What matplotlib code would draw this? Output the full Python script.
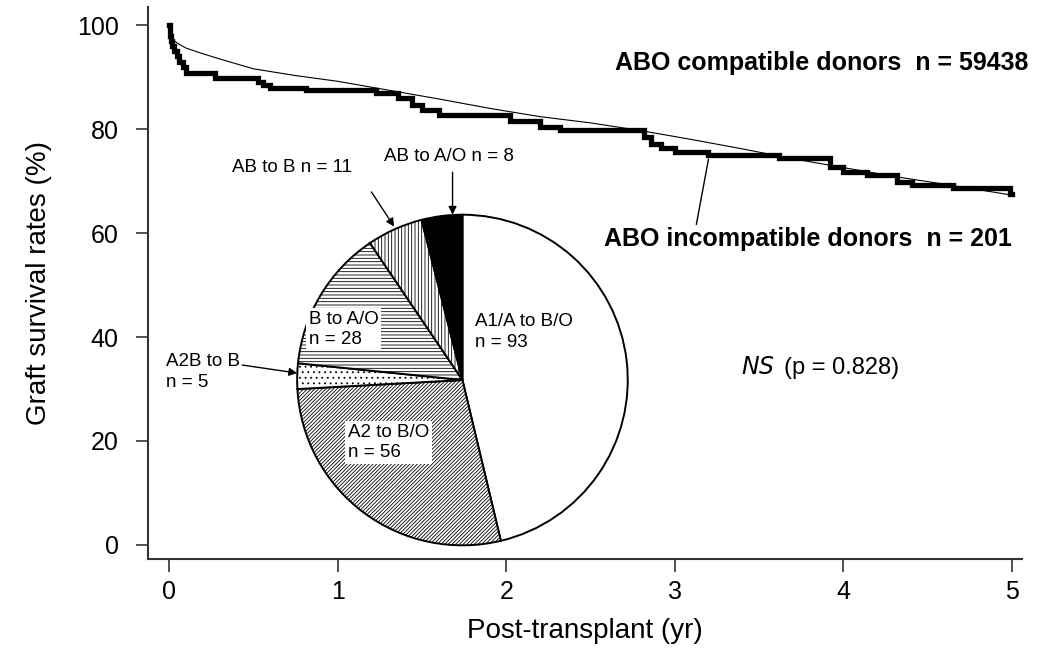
import matplotlib
matplotlib.use('Agg')
import matplotlib.pyplot as plt

plt.rcParams['font.family'] = ['Liberation Sans', 'DejaVu Sans']
plt.rcParams['hatch.linewidth'] = 0.6

# Kaplan-Meier style graft survival (%)
compat_t = [0, 0.01, 0.03, 0.06, 0.1, 0.2, 0.3, 0.5, 0.75, 1.0, 1.3, 1.6, 1.9,
            2.2, 2.5, 2.8, 3.1, 3.4, 3.7, 4.0, 4.3, 4.6, 5.0]
compat_s = [100, 98.2, 97.0, 96.3, 95.6, 94.5, 93.5, 91.6, 90.3, 89.2, 87.5, 85.8, 84.0,
            82.4, 81.2, 79.7, 78.0, 76.2, 74.3, 72.6, 70.9, 69.4, 67.3]

incompat_t = [0, 0.004, 0.008, 0.012, 0.02, 0.03, 0.045, 0.06, 0.08, 0.10, 0.27, 0.53,
              0.56, 0.60, 0.81, 1.23, 1.36, 1.44, 1.50, 1.60, 2.02, 2.20, 2.32, 2.82,
              2.86, 2.92, 3.00, 3.20, 3.62, 3.92, 4.00, 4.14, 4.32, 4.41, 4.65, 4.99, 5.0]
incompat_s = [100, 99, 98, 97, 96, 95, 94, 93, 92, 90.8, 89.8, 89.0,
              88.4, 87.9, 87.5, 86.9, 86.0, 84.6, 83.6, 82.8, 81.6, 80.5, 79.9, 78.5,
              77.2, 76.3, 75.6, 75.0, 74.4, 72.7, 71.8, 71.2, 69.9, 69.3, 68.6, 67.5, 67.5]

# donor/recipient combinations in the incompatible group
groups = ['A1/A to B/O', 'A2 to B/O', 'A2B to B', 'B to A/O', 'AB to B', 'AB to A/O']
counts = [93, 56, 5, 28, 11, 8]
fills = ['white', 'white', 'white', 'white', 'white', 'black']
hatches = ['', '/////////', '...', '-----', '|||||', '']

xticks = [0, 1, 2, 3, 4, 5]
yticks = [0, 20, 40, 60, 80, 100]

fig = plt.figure(figsize=(10.52, 6.56), dpi=100)
ax = fig.add_axes([0.1407, 0.1479, 0.8308, 0.8415])

ax.plot(incompat_t, incompat_s, drawstyle='steps-post', color='black', lw=3.8,
        solid_joinstyle='miter', zorder=3)
ax.plot(compat_t, compat_s, color='black', lw=0.8, zorder=4)

ax.set_xlim(-0.125, 5.06)
ax.set_ylim(-2.7, 103.5)
ax.set_xticks(xticks)
ax.set_yticks(yticks)
ax.tick_params(labelsize=18, length=9, width=1.2, color='#333333')
ax.tick_params(axis='x', pad=6)
ax.tick_params(axis='y', pad=12)
for s in ['top', 'right']:
    ax.spines[s].set_visible(False)
for s in ['left', 'bottom']:
    ax.spines[s].set_linewidth(1.5)
    ax.spines[s].set_color('#333333')
ax.set_xlabel('Post-transplant (yr)', fontsize=20, labelpad=10)
ax.set_ylabel('Graft survival rates (%)', fontsize=20, labelpad=18)

ax.text(5.1, 92.8, 'ABO compatible donors  n = 59438', fontsize=18, fontweight='bold',
        ha='right', va='center')
ax.annotate('ABO incompatible donors  n = 201', xy=(3.2, 74.2), xytext=(5.0, 58.8),
            fontsize=18, fontweight='bold', ha='right', va='center',
            arrowprops=dict(arrowstyle='-', color='black', lw=1,
                            shrinkA=0, shrinkB=0, relpos=(0.225, 1.0)))
ax.text(3.39, 34.1, r'$\it{NS}$', fontsize=17, ha='left', va='center')
ax.text(3.65, 34.1, '(p = 0.828)', fontsize=17, ha='left', va='center')

# inset pie of the incompatible combinations
pax = fig.add_axes([0.2804, 0.1662, 0.3184, 0.5090])
wedges, _ = pax.pie(counts, startangle=90, counterclock=False, colors=fills,
                    hatch=hatches,
                    wedgeprops=dict(edgecolor='black', linewidth=1.4))
pax.set_xlim(-1.01, 1.01)
pax.set_ylim(-1.01, 1.01)
pax.patch.set_visible(False)

lab = dict(fontsize=13.5, ha='left', va='center', linespacing=1.25)
box = dict(facecolor='white', edgecolor='none', pad=2)
pax.text(0.078, 0.29, 'A1/A to B/O\nn = 93', **lab)
pax.text(-0.93, 0.305, 'B to A/O\nn = 28  ', bbox=box, **lab)
pax.text(-0.695, -0.377, 'A2 to B/O\nn = 56', bbox=box, **lab)

arrow = dict(arrowstyle='-|>', color='black', lw=1, mutation_scale=12,
             shrinkA=0, shrinkB=0)
pax.annotate('A2B to B\nn = 5', xy=(-1.0, 0.042), xytext=(-1.796, 0.048),
             arrowprops=dict(arrow, relpos=(1.0, 0.7)), annotation_clip=False, **lab)
pax.annotate('AB to B n = 11', xy=(-0.413, 0.928), xytext=(-1.03, 1.287),
             fontsize=13.5, ha='center', va='center', annotation_clip=False)
pax.annotate('', xy=(-0.413, 0.928), xytext=(-0.551, 1.138),
             arrowprops=arrow, annotation_clip=False)
pax.annotate('AB to A/O n = 8', xy=(-0.06, 1.0), xytext=(-0.084, 1.353),
             fontsize=13.5, ha='center', va='center', annotation_clip=False)
pax.annotate('', xy=(-0.06, 1.0), xytext=(-0.06, 1.257),
             arrowprops=arrow, annotation_clip=False)

fig.savefig('out.png', dpi=100)
